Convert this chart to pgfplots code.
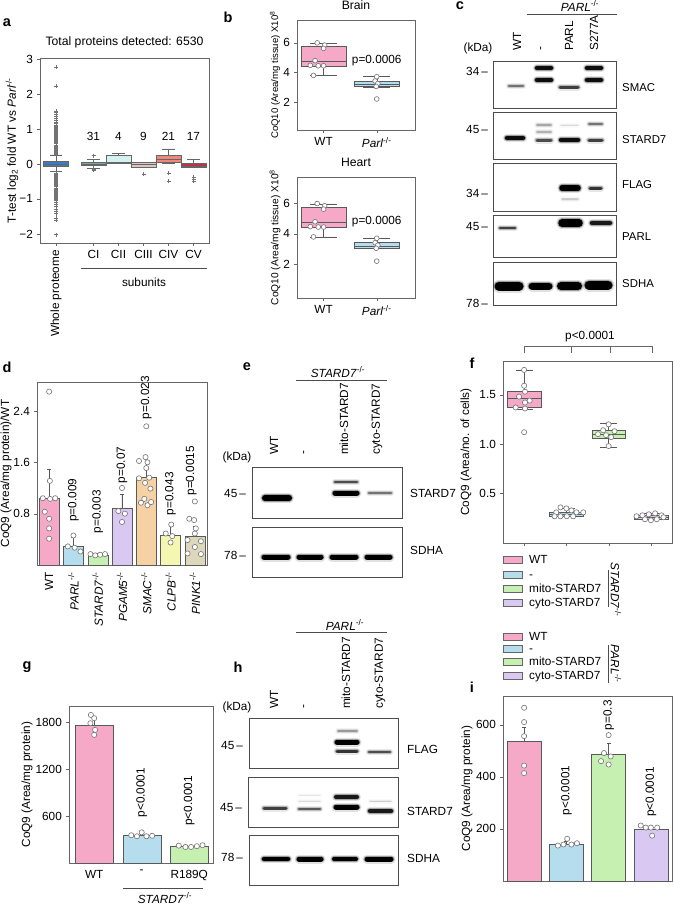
\documentclass[border=0pt]{standalone}
\usepackage{fontspec}
\setmainfont{Liberation Sans}
\usepackage{graphicx}
\usepackage{pgfplots}
\pgfplotsset{compat=1.18}
\usepgfplotslibrary{statistics}

\definecolor{cWT}{HTML}{F6A9C6}
\definecolor{cBlue}{HTML}{B5DDEE}
\definecolor{cGreen}{HTML}{C6F0B2}
\definecolor{cLav}{HTML}{D9C9F2}
\definecolor{cPeach}{HTML}{F5D1A3}
\definecolor{cYel}{HTML}{F4F7B0}
\definecolor{cKhaki}{HTML}{DDD7BC}
\definecolor{aWhole}{HTML}{3F7BBF}
\definecolor{aCI}{HTML}{7BA6A9}
\definecolor{aCII}{HTML}{D2F1EF}
\definecolor{aCIII}{HTML}{DCC6C2}
\definecolor{aCIV}{HTML}{F0877C}
\definecolor{aCV}{HTML}{C2304B}

\newcommand{\fs}{\fontsize{11.8}{13.5}\selectfont}
\newcommand{\KO}{\textsuperscript{-/-}}
\newcommand{\plet}{\fontsize{14.5}{16}\selectfont\bfseries}

\pgfplotsset{
 base/.style={scale only axis, clip=false, axis line style={black!60},
   major tick style={black!60}, major tick length=3pt, tick align=outside,
   xtick pos=bottom, ytick pos=left, ticklabel style={font=\fs},
   label style={font=\fs}, title style={font=\fontsize{12.2}{14}\selectfont}},
 ylab/.style={ylabel style={at={([xshift=-#1]axis description cs:0,0.5)}, anchor=center}},
 blot/.style={scale only axis, axis line style={black!70}, xtick=\empty, ytick=\empty,
   y dir=reverse, clip=true},
 pts/.style={only marks, mark=*, mark size=2.6pt, mark options={fill=white, draw=black!55, line width=0.6pt}},
}
\newcommand{\band}[5]{%
 \addplot[draw=black!#5, opacity=0.12, line width=#4pt+4pt, line cap=round] coordinates {(#1,#3) (#2,#3)};
 \addplot[draw=black!#5, opacity=0.3, line width=#4pt+1.8pt, line cap=round] coordinates {(#1,#3) (#2,#3)};
 \addplot[draw=black!#5, line width=#4pt, line cap=round] coordinates {(#1,#3) (#2,#3)};}

\begin{document}
\fs
\begin{tikzpicture}
\path[use as bounding box] (0,0) rectangle (673pt,-905pt);

% ---------------- panel letters
\node[font=\plet] at (7pt,-23pt) {a};
\node[font=\plet] at (228pt,-17pt) {b};
\node[font=\plet] at (460pt,-6pt) {c};
\node[font=\plet] at (7pt,-367pt) {d};
\node[font=\plet] at (247pt,-367pt) {e};
\node[font=\plet] at (472pt,-363pt) {f};
\node[font=\plet] at (27pt,-667pt) {g};
\node[font=\plet] at (238pt,-667pt) {h};
\node[font=\plet] at (472pt,-687pt) {i};

% ---------------- panel a
\begin{axis}[base, ylab=28pt, at={(40pt,-58pt)}, anchor=north west, width=169pt, height=185pt,
  xmin=-0.64, xmax=6.12, ymin=-2.26, ymax=3.03,
  ytick={-2,-1,0,1,2,3}, yticklabels={−2,−1,0,1,2,3},
  xtick={0,1.5,2.5,3.5,4.5,5.5},
  xticklabels={\rotatebox{90}{Whole proteome},CI,CII,CIII,CIV,CV},
  title={Total proteins detected: 6530},
  ylabel={T-test log\textsubscript{2} fold WT vs \textit{Parl}\KO},
  boxplot/draw direction=y]
\addplot[boxplot prepared={draw position=0, lower whisker=-0.22, lower quartile=-0.05, median=0.0, upper quartile=0.085, upper whisker=0.26, box extend=1, whisker extend=0.5},
  fill=aWhole, draw=black!60, mark=+, mark size=2pt, mark options={draw=black!55}]
  table[row sep=\\, y index=0] {data\\ 0.28\\0.31\\0.34\\0.37\\0.40\\0.43\\0.46\\0.49\\0.52\\0.55\\0.58\\0.61\\0.64\\0.67\\0.70\\0.73\\0.76\\0.79\\0.82\\0.85\\0.88\\0.91\\0.94\\0.97\\1.00\\1.03\\1.06\\1.09\\1.12\\1.16\\1.20\\1.25\\1.30\\1.36\\1.42\\1.48\\1.52\\2.23\\2.78\\
  -0.26\\-0.29\\-0.32\\-0.35\\-0.38\\-0.41\\-0.44\\-0.47\\-0.50\\-0.53\\-0.56\\-0.59\\-0.62\\-0.65\\-0.68\\-0.71\\-0.74\\-0.77\\-0.80\\-0.83\\-0.86\\-0.89\\-0.92\\-0.95\\-0.98\\-1.01\\-1.05\\-1.10\\-1.15\\-1.20\\-1.28\\-1.36\\-1.42\\-1.55\\-1.60\\-2.02\\};
\addplot[boxplot prepared={draw position=1.5, lower whisker=-0.125, lower quartile=-0.03, median=0.0, upper quartile=0.06, upper whisker=0.14, box extend=1, whisker extend=0.5},
  fill=aCI, draw=black!60, mark=+, mark size=2pt, mark options={draw=black!55}]
  table[row sep=\\, y index=0] {data\\ 0.24\\ -0.15\\ -0.18\\};
\addplot[boxplot prepared={draw position=2.5, lower whisker=0.02, lower quartile=0.03, median=0.05, upper quartile=0.24, upper whisker=0.31, box extend=1, whisker extend=0.5},
  fill=aCII, draw=black!60] coordinates {};
\addplot[boxplot prepared={draw position=3.5, lower whisker=-0.085, lower quartile=-0.085, median=-0.01, upper quartile=0.05, upper whisker=0.05, box extend=1, whisker extend=0.5},
  fill=aCIII, draw=black!60, mark=+, mark size=2pt, mark options={draw=black!55}]
  table[row sep=\\, y index=0] {data\\ -0.29\\};
\addplot[boxplot prepared={draw position=4.5, lower whisker=0.03, lower quartile=0.05, median=0.13, upper quartile=0.24, upper whisker=0.43, box extend=1, whisker extend=0.5},
  fill=aCIV, draw=black!60, mark=+, mark size=2pt, mark options={draw=black!55}]
  table[row sep=\\, y index=0] {data\\ -0.27\\ -0.5\\};
\addplot[boxplot prepared={draw position=5.5, lower whisker=-0.1, lower quartile=-0.085, median=-0.05, upper quartile=0.02, upper whisker=0.14, box extend=1, whisker extend=0.5},
  fill=aCV, draw=black!60, mark=+, mark size=2pt, mark options={draw=black!55}]
  table[row sep=\\, y index=0] {data\\ -0.38\\ -0.43\\ -0.5\\};
\node at (axis cs:1.5,0.8) {31};
\node at (axis cs:2.5,0.8) {4};
\node at (axis cs:3.5,0.8) {9};
\node at (axis cs:4.5,0.8) {21};
\node at (axis cs:5.5,0.8) {17};
\end{axis}
\draw[black!70] (81pt,-268pt) -- (207pt,-268pt);
\node at (144pt,-282pt) {subunits};

% ---------------- panel b
\begin{axis}[base, ylab=22pt, at={(297pt,-20pt)}, anchor=north west, width=118pt, height=110pt,
  xmin=0.5, xmax=2.72, ymin=0.1, ymax=7.55, ytick={2,4,6}, yticklabels={2,4,6},
  xtick={1,2}, xticklabels={WT,\textit{Parl}\KO}, title={Brain},
  ylabel={CoQ10 (Area/mg tissue) X10\textsuperscript{8}},
  ylabel style={font=\fontsize{9.6}{11}\selectfont, yshift=0pt},
  boxplot/draw direction=y]
\addplot[boxplot prepared={draw position=1, lower whisker=3.8, lower quartile=4.45, median=4.78, upper quartile=5.75, upper whisker=5.98, box extend=0.85, whisker extend=0.5},
  fill=cWT, draw=black!65] coordinates {};
\addplot[boxplot prepared={draw position=2, lower whisker=3.03, lower quartile=3.05, median=3.2, upper quartile=3.42, upper whisker=3.72, box extend=0.85, whisker extend=0.5},
  fill=cBlue, draw=black!65] coordinates {};
\addplot[pts, mark size=2.4pt] coordinates {(0.88,6.0) (1.02,5.85) (1.0,5.63) (0.84,4.8) (0.75,4.48) (0.9,4.45) (1.0,4.45) (0.81,3.8)};
\addplot[pts, mark size=2.4pt] coordinates {(2.0,3.71) (1.97,3.42) (2.02,3.25) (1.99,3.05) (2.0,2.2)};
\node at (axis cs:2.0,4.8) {p=0.0006};
\end{axis}

\begin{axis}[base, ylab=22pt, at={(297pt,-177pt)}, anchor=north west, width=118pt, height=121pt,
  xmin=0.5, xmax=2.72, ymin=-0.23, ymax=7.75, ytick={2,4,6}, yticklabels={2,4,6},
  xtick={1,2}, xticklabels={WT,\textit{Parl}\KO}, title={Heart},
  ylabel={CoQ10 (Area/mg tissue) X10\textsuperscript{8}},
  ylabel style={font=\fontsize{10.2}{11}\selectfont},
  boxplot/draw direction=y]
\addplot[boxplot prepared={draw position=1, lower whisker=3.8, lower quartile=4.45, median=4.78, upper quartile=5.75, upper whisker=5.98, box extend=0.85, whisker extend=0.5},
  fill=cWT, draw=black!65] coordinates {};
\addplot[boxplot prepared={draw position=2, lower whisker=3.03, lower quartile=3.05, median=3.2, upper quartile=3.42, upper whisker=3.72, box extend=0.85, whisker extend=0.5},
  fill=cBlue, draw=black!65] coordinates {};
\addplot[pts, mark size=2.4pt] coordinates {(0.88,6.0) (1.02,5.85) (1.0,5.63) (0.84,4.8) (0.75,4.48) (0.9,4.45) (1.0,4.45) (0.81,3.8)};
\addplot[pts, mark size=2.4pt] coordinates {(2.0,3.71) (1.97,3.42) (2.02,3.25) (1.99,3.05) (2.0,2.2)};
\node at (axis cs:2.0,4.8) {p=0.0006};
\end{axis}

% ---------------- panel c (blot)
\node at (580pt,-6pt) {\textit{PARL}\KO};
\draw[black!70] (527pt,-14pt) -- (617pt,-14pt);
\node at (478pt,-48pt) {(kDa)};
\node[rotate=90, anchor=west] at (517pt,-55pt) {WT};
\node[rotate=90, anchor=west] at (542pt,-55pt) {-};
\node[rotate=90, anchor=west] at (569pt,-55pt) {PARL};
\node[rotate=90, anchor=west] at (594pt,-55pt) {S277A};
\node[anchor=east] at (492pt,-71pt) {34\,–};
\node[anchor=east] at (492pt,-129pt) {45\,–};
\node[anchor=east] at (492pt,-193pt) {34\,–};
\node[anchor=east] at (492pt,-226pt) {45\,–};
\node[anchor=east] at (492pt,-303pt) {78\,–};
\begin{scope}[every node/.style={anchor=west, inner sep=1pt, font=\fontsize{11.4}{13}\selectfont}]
\node at (621pt,-88pt) {SMAC};
\node at (621pt,-140pt) {STARD7};
\node at (621pt,-185pt) {FLAG};
\node at (621pt,-237pt) {PARL};
\node at (621pt,-284pt) {SDHA};
\end{scope}

\begin{axis}[blot, at={(493pt,-61pt)}, anchor=north west, width=123pt, height=47pt, xmin=493, xmax=616, ymin=61, ymax=108]
\band{509}{523}{86}{2.5}{55}
\band{537}{551}{68}{4.5}{95}
\band{537}{551}{80}{4.5}{95}
\band{560}{578}{87}{3}{75}
\band{587}{601}{68}{4.5}{95}
\band{587}{601}{80}{4.5}{95}
\end{axis}
\begin{axis}[blot, at={(493pt,-112pt)}, anchor=north west, width=123pt, height=47pt, xmin=493, xmax=616, ymin=112, ymax=159]
\band{507}{523}{138}{4.5}{95}
\band{537}{551}{125}{1.5}{35}
\band{537}{551}{132}{1.5}{30}
\band{537}{551}{140}{3}{70}
\band{561}{578}{125}{1}{15}
\band{561}{578}{140}{4.5}{95}
\band{589}{602}{124}{2}{55}
\band{589}{602}{140}{3}{75}
\end{axis}
\begin{axis}[blot, at={(493pt,-163pt)}, anchor=north west, width=123pt, height=48pt, xmin=493, xmax=616, ymin=163, ymax=211]
\band{562}{578}{188}{5.5}{100}
\band{562}{578}{199}{1.2}{20}
\band{590}{601}{188}{3}{80}
\end{axis}
\begin{axis}[blot, at={(493pt,-215pt)}, anchor=north west, width=123pt, height=42pt, xmin=493, xmax=616, ymin=215, ymax=257]
\band{500}{515}{228}{2.5}{75}
\band{562}{579}{223}{7.5}{100}
\band{592}{610}{223}{4.5}{90}
\end{axis}
\begin{axis}[blot, at={(493pt,-262pt)}, anchor=north west, width=123pt, height=43pt, xmin=493, xmax=616, ymin=262, ymax=305]
\band{499}{519}{286}{9}{100}
\band{532}{549}{286}{7}{100}
\band{561}{578}{286}{8}{100}
\band{589}{608}{285}{9}{100}
\end{axis}

% ---------------- panel d
\begin{axis}[base, ylab=31pt, at={(37pt,-382pt)}, anchor=north west, width=170pt, height=183pt,
  xmin=0.5, xmax=7.5, ymin=0, ymax=2.85, ytick={0.8,1.6,2.4}, yticklabels={0.8,1.6,2.4},
  xtick={1,2,3,4,5,6,7},
  xticklabels={WT,\textit{PARL}\KO,\textit{STARD7}\KO,\textit{PGAM5}\KO,\textit{SMAC}\KO,\textit{CLPB}\KO,\textit{PINK1}\KO},
  xticklabel style={rotate=90, anchor=east}, xtick style={draw=none},
  ylabel={CoQ9 (Area/mg protein)/WT}]
\addplot[ybar, bar width=20pt, bar shift=0pt, fill=cWT, draw=black!65, error bars/.cd, y dir=plus, y explicit, error bar style={black!65}] coordinates {(1,1.04) +- (0,0.45)};
\addplot[ybar, bar width=20pt, bar shift=0pt, fill=cBlue, draw=black!65, error bars/.cd, y dir=plus, y explicit, error bar style={black!65}] coordinates {(2,0.29) +- (0,0.15)};
\addplot[ybar, bar width=20pt, bar shift=0pt, fill=cGreen, draw=black!65, error bars/.cd, y dir=plus, y explicit, error bar style={black!65}] coordinates {(3,0.16) +- (0,0.02)};
\addplot[ybar, bar width=20pt, bar shift=0pt, fill=cLav, draw=black!65, error bars/.cd, y dir=plus, y explicit, error bar style={black!65}] coordinates {(4,0.88) +- (0,0.23)};
\addplot[ybar, bar width=20pt, bar shift=0pt, fill=cPeach, draw=black!65, error bars/.cd, y dir=plus, y explicit, error bar style={black!65}] coordinates {(5,1.36) +- (0,0.18)};
\addplot[ybar, bar width=20pt, bar shift=0pt, fill=cYel, draw=black!65, error bars/.cd, y dir=plus, y explicit, error bar style={black!65}] coordinates {(6,0.47) +- (0,0.15)};
\addplot[ybar, bar width=20pt, bar shift=0pt, fill=cKhaki, draw=black!65, error bars/.cd, y dir=plus, y explicit, error bar style={black!65}] coordinates {(7,0.45) +- (0,0.15)};
\addplot[pts] coordinates {(1.0,2.70) (1.03,1.31) (0.74,1.04) (1.04,1.03) (1.25,1.04) (0.82,0.83) (1.0,0.72) (1.0,0.57) (1.0,0.41)};
\addplot[pts] coordinates {(2.0,0.46) (1.77,0.29) (2.05,0.27) (2.29,0.21)};
\addplot[pts] coordinates {(2.7,0.17) (2.9,0.15) (3.1,0.16) (3.3,0.17)};
\addplot[pts] coordinates {(4.0,1.2) (3.85,0.84) (4.12,0.8) (4.0,0.67)};
\addplot[pts] coordinates {(5.0,2.16) (4.97,1.68) (4.7,1.62) (5.05,1.6) (5.0,1.51) (4.7,1.35) (5.12,1.36) (4.95,1.28) (5.17,1.19) (4.92,1.03) (4.78,0.97) (5.05,0.93) (5.2,0.98)};
\addplot[pts] coordinates {(6.03,0.63) (5.8,0.49) (6.07,0.45) (6.0,0.35)};
\addplot[pts] coordinates {(7.0,0.99) (6.77,0.72) (6.97,0.7) (7.04,0.57) (7.0,0.49) (6.7,0.39) (7.25,0.37) (7.0,0.28) (6.7,0.18) (7.25,0.17)};
\node[rotate=90, anchor=west, inner sep=0pt] at (axis cs:2,0.67) {p=0.009};
\node[rotate=90, anchor=west, inner sep=0pt] at (axis cs:3,0.49) {p=0.003};
\node[rotate=90, anchor=west, inner sep=0pt] at (axis cs:4,1.27) {p=0.07};
\node[rotate=90, anchor=west, inner sep=0pt] at (axis cs:5,2.27) {p=0.023};
\node[rotate=90, anchor=west, inner sep=0pt] at (axis cs:6,0.77) {p=0.043};
\node[rotate=90, anchor=west, inner sep=0pt] at (axis cs:6.85,1.08) {p=0.0015};
\end{axis}

% ---------------- panel e (blot)
\node at (338pt,-372pt) {\textit{STARD7}\KO};
\draw[black!70] (296pt,-380pt) -- (387pt,-380pt);
\node at (237pt,-457pt) {(kDa)};
\node[rotate=90, anchor=west] at (274pt,-459pt) {WT};
\node[rotate=90, anchor=west] at (305pt,-459pt) {-};
\node[rotate=90, anchor=west] at (344pt,-459pt) {mito-STARD7};
\node[rotate=90, anchor=west] at (377pt,-459pt) {cyto-STARD7};
\node[anchor=east] at (250pt,-493pt) {45\,–};
\node[anchor=east] at (250pt,-555pt) {78\,–};
\node[anchor=west] at (406pt,-493pt) {STARD7};
\node[anchor=west] at (406pt,-550pt) {SDHA};
\begin{axis}[blot, at={(252pt,-467pt)}, anchor=north west, width=150pt, height=51pt, xmin=252, xmax=402, ymin=467, ymax=518]
\band{265}{289}{498}{6}{100}
\band{335}{357}{482}{2.5}{70}
\band{335}{357}{493}{5}{100}
\band{369}{391}{493}{2.5}{55}
\end{axis}
\begin{axis}[blot, at={(252pt,-527pt)}, anchor=north west, width=150pt, height=50pt, xmin=252, xmax=402, ymin=527, ymax=577]
\band{264}{288}{557}{5}{100}
\band{299}{321}{557}{5}{100}
\band{332}{356}{557}{5}{100}
\band{367}{390}{557}{5}{100}
\end{axis}

% ---------------- panel f
\node at (590pt,-337pt) {p<0.0001};
\draw[black!60] (524pt,-353pt) -- (524pt,-346pt) -- (652pt,-346pt) -- (652pt,-353pt);
\draw[black!60] (571pt,-346pt) -- (571pt,-353pt);
\draw[black!60] (610pt,-346pt) -- (610pt,-353pt);
\begin{axis}[base, ylab=37pt, at={(503pt,-361pt)}, anchor=north west, width=169pt, height=182pt,
  xmin=0.5, xmax=4.5, ymin=0, ymax=1.84, ytick={0.5,1.0,1.5}, yticklabels={0.5,1.0,1.5},
  xtick={1,2,3,4}, xticklabels={}, ylabel={CoQ9 (Area/no. of cells)}, boxplot/draw direction=y]
\addplot[boxplot prepared={draw position=1, lower whisker=1.35, lower quartile=1.37, median=1.46, upper quartile=1.53, upper whisker=1.75, box extend=0.8, whisker extend=0.4},
  fill=cWT, draw=black!65] coordinates {};
\addplot[boxplot prepared={draw position=2, lower whisker=0.27, lower quartile=0.27, median=0.295, upper quartile=0.315, upper whisker=0.35, box extend=0.8, whisker extend=0.4},
  fill=cBlue, draw=black!65] coordinates {};
\addplot[boxplot prepared={draw position=3, lower whisker=0.97, lower quartile=1.06, median=1.096, upper quartile=1.136, upper whisker=1.21, box extend=0.8, whisker extend=0.4},
  fill=cGreen, draw=black!65] coordinates {};
\addplot[boxplot prepared={draw position=4, lower whisker=0.237, lower quartile=0.237, median=0.257, upper quartile=0.278, upper whisker=0.3, box extend=0.8, whisker extend=0.4},
  fill=cLav, draw=black!65] coordinates {};
\addplot[pts] coordinates {(1.0,1.75) (1.0,1.59) (1.02,1.53) (0.88,1.48) (1.13,1.44) (1.02,1.42) (0.8,1.37) (1.02,1.36) (1.0,1.12)};
\addplot[pts] coordinates {(1.86,0.36) (2.0,0.35) (2.12,0.33) (1.76,0.31) (2.24,0.31) (2.4,0.31) (1.72,0.27) (1.86,0.27) (2.01,0.27) (2.16,0.27)};
\addplot[pts] coordinates {(3.0,1.2) (2.87,1.14) (3.14,1.13) (2.75,1.1) (2.94,1.09) (3.06,1.07) (3.0,0.98)};
\addplot[pts] coordinates {(3.66,0.27) (3.8,0.28) (3.95,0.29) (4.1,0.3) (4.25,0.28) (3.86,0.24) (4.0,0.23) (4.14,0.24) (4.3,0.26)};
\end{axis}

% ---------------- legends
\begin{scope}[every node/.style={anchor=west, inner sep=0pt, text height=8.5pt, text depth=1.5pt}]
\filldraw[fill=cWT, draw=black!60] (503pt,-556.5pt) rectangle (522pt,-563.5pt);
\filldraw[fill=cBlue, draw=black!60] (503pt,-571.5pt) rectangle (522pt,-578.5pt);
\filldraw[fill=cGreen, draw=black!60] (503pt,-585.5pt) rectangle (522pt,-592.5pt);
\filldraw[fill=cLav, draw=black!60] (503pt,-599.5pt) rectangle (522pt,-606.5pt);
\node at (529pt,-560pt) {WT};
\node at (529pt,-575pt) {-};
\node at (529pt,-589pt) {mito-STARD7};
\node at (529pt,-603pt) {cyto-STARD7};

\filldraw[fill=cWT, draw=black!60] (503pt,-633.5pt) rectangle (522pt,-640.5pt);
\filldraw[fill=cBlue, draw=black!60] (503pt,-645.5pt) rectangle (522pt,-652.5pt);
\filldraw[fill=cGreen, draw=black!60] (503pt,-658.5pt) rectangle (522pt,-665.5pt);
\filldraw[fill=cLav, draw=black!60] (503pt,-672.5pt) rectangle (522pt,-679.5pt);
\node at (529pt,-637pt) {WT};
\node at (529pt,-649pt) {-};
\node at (529pt,-662pt) {mito-STARD7};
\node at (529pt,-676pt) {cyto-STARD7};
\end{scope}
\draw[black!70] (608pt,-570pt) -- (608pt,-607pt);
\node[rotate=-90] at (616pt,-590pt) {\textit{STARD7}\KO};
\draw[black!70] (608pt,-645pt) -- (608pt,-683pt);
\node[rotate=-90] at (616pt,-664pt) {\textit{PARL}\KO};

% ---------------- panel g
\begin{axis}[base, ylab=42pt, at={(69pt,-706pt)}, anchor=north west, width=144pt, height=157pt,
  xmin=0.47, xmax=3.5, ymin=0, ymax=2007, ytick={600,1200,1800}, yticklabels={600,1200,1800},
  xtick={1,2,3}, xticklabels={WT,-,R189Q}, xtick style={draw=none},
  ylabel={CoQ9 (Area/mg protein)}]
\addplot[ybar, bar width=38pt, bar shift=0pt, fill=cWT, draw=black!65, error bars/.cd, y dir=plus, y explicit, error bar style={black!65}] coordinates {(1,1766) +- (0,85)};
\addplot[ybar, bar width=38pt, bar shift=0pt, fill=cBlue, draw=black!65, error bars/.cd, y dir=plus, y explicit, error bar style={black!65}] coordinates {(2,355) +- (0,25)};
\addplot[ybar, bar width=38pt, bar shift=0pt, fill=cGreen, draw=black!65, error bars/.cd, y dir=plus, y explicit, error bar style={black!65}] coordinates {(3,211) +- (0,10)};
\addplot[pts] coordinates {(0.93,1893) (1.0,1851) (0.92,1787) (1.02,1702) (1.0,1638)};
\addplot[pts] coordinates {(1.78,355) (1.9,342) (2.0,392) (2.1,342) (2.22,348)};
\addplot[pts] coordinates {(2.78,222) (2.92,205) (3.04,205) (3.16,215) (3.28,228)};
\node[rotate=90, anchor=west, inner sep=0pt] at (axis cs:2,580) {p<0.0001};
\node[rotate=90, anchor=west, inner sep=0pt] at (axis cs:3,473) {p<0.0001};
\end{axis}
\draw[black!70] (123pt,-888pt) -- (203pt,-888pt);
\node at (165pt,-898pt) {\textit{STARD7}\KO};

% ---------------- panel h (blot)
\node at (345pt,-625pt) {\textit{PARL}\KO};
\draw[black!70] (296pt,-632pt) -- (387pt,-632pt);
\node at (237pt,-707pt) {(kDa)};
\node[rotate=90, anchor=west] at (274pt,-713pt) {WT};
\node[rotate=90, anchor=west] at (305pt,-713pt) {-};
\node[rotate=90, anchor=west] at (346pt,-713pt) {mito-STARD7};
\node[rotate=90, anchor=west] at (380pt,-713pt) {cyto-STARD7};
\node[anchor=east] at (247pt,-745pt) {45\,–};
\node[anchor=east] at (246pt,-807pt) {45\,–};
\node[anchor=east] at (247pt,-857pt) {78\,–};
\node[anchor=west] at (403pt,-749pt) {FLAG};
\node[anchor=west] at (403pt,-811pt) {STARD7};
\node[anchor=west] at (403pt,-858pt) {SDHA};
\begin{axis}[blot, at={(249pt,-718pt)}, anchor=north west, width=149pt, height=50pt, xmin=249, xmax=398, ymin=718, ymax=768]
\band{338}{357}{731}{1.5}{40}
\band{337}{357}{742}{5}{100}
\band{337}{357}{751}{3}{80}
\band{369}{390}{752}{2.5}{70}
\end{axis}
\begin{axis}[blot, at={(248pt,-777pt)}, anchor=north west, width=150pt, height=50pt, xmin=248, xmax=398, ymin=777, ymax=827]
\band{264}{286}{808}{3}{75}
\band{299}{320}{795}{1}{10}
\band{299}{320}{801}{1}{15}
\band{299}{320}{809}{2.5}{65}
\band{336}{357}{797}{4}{90}
\band{336}{357}{807}{5}{100}
\band{370}{391}{801}{1}{20}
\band{370}{391}{811}{4.5}{90}
\end{axis}
\begin{axis}[blot, at={(249pt,-835pt)}, anchor=north west, width=149pt, height=50pt, xmin=249, xmax=398, ymin=835, ymax=885]
\band{264}{288}{859}{4.5}{100}
\band{299}{321}{859}{5}{100}
\band{334}{356}{859}{4}{100}
\band{367}{391}{859}{5}{100}
\end{axis}

% ---------------- panel i
\begin{axis}[base, ylab=36pt, at={(503pt,-696pt)}, anchor=north west, width=169pt, height=185pt,
  xmin=0.5, xmax=4.5, ymin=0, ymax=710, ytick={200,400,600}, yticklabels={200,400,600},
  xtick=\empty, ylabel={CoQ9 (Area/mg protein)}]
\addplot[ybar, bar width=34pt, bar shift=0pt, fill=cWT, draw=black!65, error bars/.cd, y dir=plus, y explicit, error bar style={black!65}] coordinates {(1,537) +- (0,54)};
\addplot[ybar, bar width=34pt, bar shift=0pt, fill=cBlue, draw=black!65, error bars/.cd, y dir=plus, y explicit, error bar style={black!65}] coordinates {(2,142) +- (0,10)};
\addplot[ybar, bar width=34pt, bar shift=0pt, fill=cGreen, draw=black!65, error bars/.cd, y dir=plus, y explicit, error bar style={black!65}] coordinates {(3,488) +- (0,41)};
\addplot[ybar, bar width=34pt, bar shift=0pt, fill=cLav, draw=black!65, error bars/.cd, y dir=plus, y explicit, error bar style={black!65}] coordinates {(4,200) +- (0,8)};
\addplot[pts] coordinates {(1.0,665) (1.0,610) (1.0,556) (1.0,443) (1.0,414)};
\addplot[pts] coordinates {(1.8,136) (1.93,140) (2.02,162) (2.12,140) (2.25,145)};
\addplot[pts] coordinates {(3.0,560) (2.89,491) (3.05,478) (2.82,460) (3.0,447)};
\addplot[pts] coordinates {(3.76,213) (3.88,205) (4.0,205) (4.15,205) (4.03,174)};
\node[rotate=90, anchor=west, inner sep=0pt] at (axis cs:2,251) {p<0.0001};
\node[rotate=90, anchor=west, inner sep=0pt] at (axis cs:3,578) {p=0.3};
\node[rotate=90, anchor=west, inner sep=0pt] at (axis cs:4,245) {p<0.0001};
\end{axis}
\end{tikzpicture}
\end{document}
